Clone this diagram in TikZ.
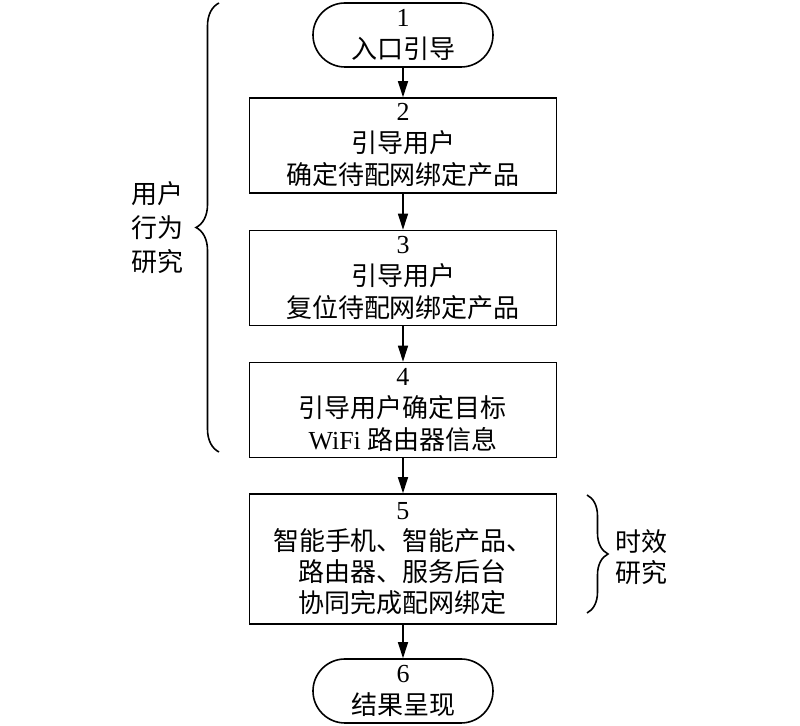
\documentclass[tikz,border=0pt]{standalone}
\usepackage{fontspec}
\setmainfont{Liberation Serif}
\newfontfamily\cjk{Noto Sans CJK SC}
\usetikzlibrary{shapes.misc,arrows.meta,decorations.pathreplacing}

\begin{document}
\begin{tikzpicture}[x=0.5pt,y=-0.5pt,
    term/.style={draw,thick,rounded rectangle,minimum width=90pt,minimum height=32pt,
        inner sep=0pt,align=center,font=\fontsize{13}{16}\selectfont},
    proc/.style={draw,thick,rectangle,minimum width=153.5pt,minimum height=47.5pt,
        inner sep=0pt,align=center,font=\fontsize{13}{16}\selectfont},
    flow/.style={thick,-{Triangle[length=8pt,width=5pt]}},
    bracket/.style={thick,decoration={brace,amplitude=#1},decorate}]
            \useasboundingbox (0,0) rectangle (800,726);
            \node[term] (S1) at (403,35) {1\\{\cjk 入口引导}};
            \node[proc] (S2) at (403,145.5) {2\\{\cjk 引导用户}\\{\cjk 确定待配网绑定产品}};
            \node[proc] (S3) at (403,278) {3\\{\cjk 引导用户}\\{\cjk 复位待配网绑定产品}};
            \node[proc] (S4) at (403,410) {4\\{\cjk 引导用户确定目标}\\WiFi {\cjk 路由器信息}};
            \node[proc,minimum height=65pt,font=\fontsize{13}{15.5}\selectfont] (S5) at (403,559)
                {5\\{\cjk 智能手机、智能产品、}\\{\cjk 路由器、服务后台}\\{\cjk 协同完成配网绑定}};
            \node[term] (S6) at (403,691) {6\\{\cjk 结果呈现}};
            \draw[flow] (S1)--(S2);
            \draw[flow] (S2)--(S3);
            \draw[flow] (S3)--(S4);
            \draw[flow] (S4)--(S5);
            \draw[flow] (S5)--(S6);
            \coordinate (LB) at (219,452);
            \coordinate (LT) at (219,3);
            \coordinate (RT) at (587,495);
            \coordinate (RB) at (587,613);
            \draw[bracket=11.5pt] (LB)--(LT);
            \draw[bracket=10.5pt] (RT)--(RB);
            \node[align=center,font=\cjk\fontsize{13}{17}\selectfont] (user) at (158,228) {用户\\行为\\研究};
            \node[align=center,font=\cjk\fontsize{13}{15.5}\selectfont] (time) at (641,557) {时效\\研究};
    \end{tikzpicture}
\end{document}
